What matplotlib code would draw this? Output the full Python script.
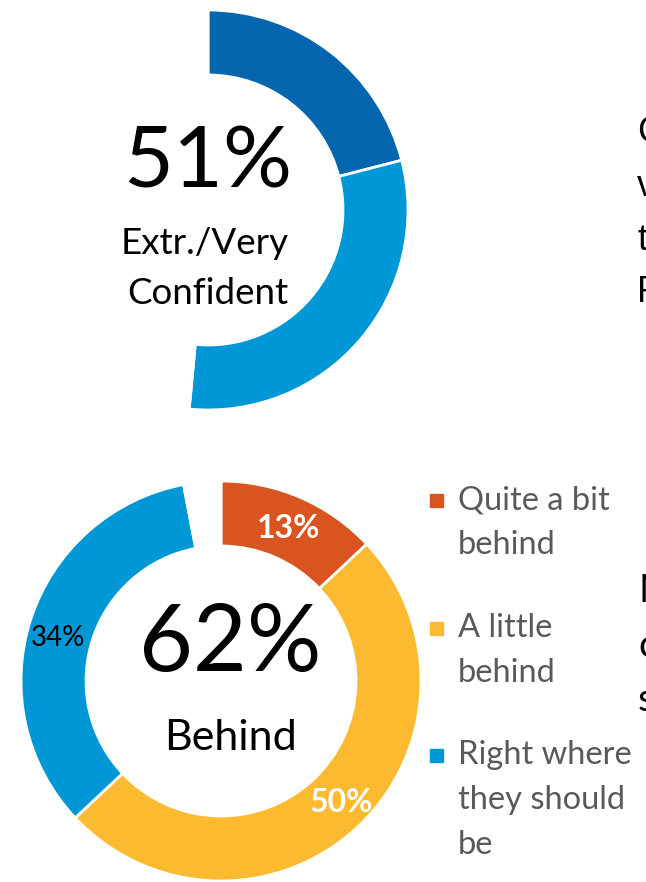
import matplotlib.pyplot as plt

# --- Data ---
conf_labels = ['Extremely confident', 'Very confident', 'Other']
conf_values = [21, 30.5, 48.5]
conf_colors = ['#0565AE', '#0097D6', 'none']
conf_total = '51%'

pace_labels = ['Quite a bit behind', 'A little behind', 'Right where they should be', 'Other']
pace_values = [13, 50, 34, 3]
pace_colors = ['#D9541F', '#FBBA30', '#0097D6', 'none']
pace_total = '62%'
legend_lines = [['Quite a bit', 'behind'], ['A little', 'behind'], ['Right where', 'they should', 'be']]

W, H = 646, 882
FONT = 'Lato'

fig = plt.figure(figsize=(W / 100, H / 100), dpi=100)


def px_axes(cx, cy, r):
    # square axes in pixel coordinates, centred on (cx, cy) measured from the top
    ax = fig.add_axes([(cx - r) / W, (H - cy - r) / H, 2 * r / W, 2 * r / H])
    ax.axis('off')
    return ax


def ptext(x, y, s, **kw):
    fig.text(x / W, 1 - y / H, s, ha=kw.pop('ha', 'center'), va=kw.pop('va', 'center'),
             family=kw.pop('family', FONT), **kw)


# --- Top donut ---
ax1 = px_axes(208, 210, 200)
ax1.pie(conf_values, colors=conf_colors, startangle=90, counterclock=False, radius=1,
        wedgeprops=dict(width=0.325, edgecolor='white', linewidth=2))
ax1.set_xlim(-1, 1)
ax1.set_ylim(-1, 1)

ptext(208, 163, conf_total, fontsize=62, color='black')
ptext(205, 243, 'Extr./Very', fontsize=26.5, color='black')
ptext(208, 293, 'Confident', fontsize=26.5, color='black')

# --- Bottom donut ---
ax2 = px_axes(221, 681, 200)
ax2.pie(pace_values, colors=pace_colors, startangle=90, counterclock=False, radius=1,
        wedgeprops=dict(width=0.325, edgecolor='white', linewidth=2))
ax2.set_xlim(-1, 1)
ax2.set_ylim(-1, 1)

ptext(230, 645, pace_total, fontsize=67, color='black')
ptext(230, 738, 'Behind', fontsize=31, color='black')

ptext(289, 528, f'{pace_values[0]}%', fontsize=23, color='white', fontweight='bold')
ptext(341, 803, f'{pace_values[1]}%', fontsize=23, color='white', fontweight='bold')
ptext(58, 638, f'{pace_values[2]}%', fontsize=20, color='black')

# --- Legend ---
legend_y = [500, 628, 755]
for y0, lines, col in zip(legend_y, legend_lines, pace_colors[:3]):
    fig.patches.append(plt.Rectangle((430 / W, 1 - (y0 + 7) / H), 13 / W, 13 / H,
                                     transform=fig.transFigure, color=col))
    for i, line in enumerate(lines):
        ptext(458, y0 + i * 45, line, fontsize=23.5, color='#595959', ha='left')

# --- Text running off the right edge ---
for y, s in zip([132, 187, 241, 293], ['C', 'v', 't', 'F']):
    ptext(637, y, s, fontsize=26, color='black', ha='left', family='Liberation Sans')
for y, s in zip([591, 646, 700], ['M', 'c', 's']):
    ptext(638, y, s, fontsize=28, color='black', ha='left')

fig.savefig('out.png', dpi=100)
